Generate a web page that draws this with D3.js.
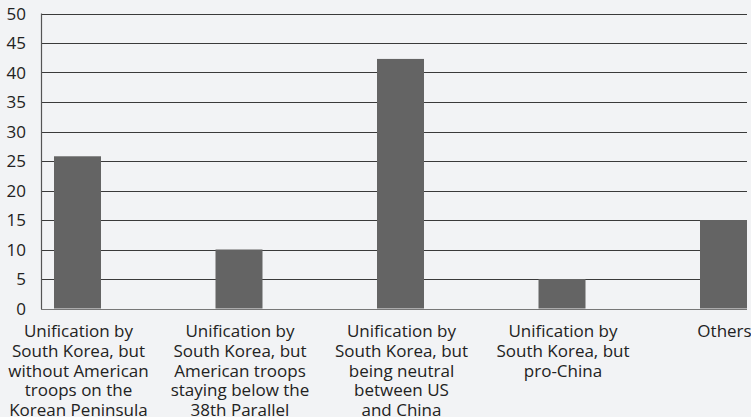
<!DOCTYPE html>
<html><head><meta charset="utf-8">
<script src="https://cdn.jsdelivr.net/npm/d3@7"></script>
<style>body{margin:0;background:#f2f3f5;}svg{display:block;}</style>
</head><body>
<script>
const categories = [
  ["Unification by","South Korea, but","without American","troops on the","Korean Peninsula"],
  ["Unification by","South Korea, but","American troops","staying below the","38th Parallel"],
  ["Unification by","South Korea, but","being neutral","between US","and China"],
  ["Unification by","South Korea, but","pro-China"],
  ["Others"]
];
const values = [25.8, 10, 42.3, 5, 15];
const yTicks = [0,5,10,15,20,25,30,35,40,45,50];

const W = 751, H = 417;
const svg = d3.select("body").append("svg").attr("width", W).attr("height", H);
svg.append("rect").attr("width", W).attr("height", H).attr("fill", "#f2f3f5");

const keys = categories.map((c,i)=>i);
const x = d3.scaleBand().domain(keys).range([54, 747]).paddingInner(0.709).paddingOuter(0);
const y = d3.scaleLinear().domain([0, 50]).range([308.5, 13.5]);
const plotLeft = 41, plotRight = 747;

// gridlines
svg.append("g").selectAll("line").data(yTicks.filter(t=>t>0)).join("line")
  .attr("x1", plotLeft).attr("x2", plotRight)
  .attr("y1", d=>Math.round(y(d))+0.5).attr("y2", d=>Math.round(y(d))+0.5)
  .attr("stroke", "#3a3a3a").attr("stroke-width", 1.2);

// bars
svg.append("g").selectAll("rect").data(values).join("rect")
  .attr("x", (d,i)=>x(i)).attr("width", x.bandwidth())
  .attr("y", d=>y(d)).attr("height", d=>y(0)-y(d))
  .attr("fill", "#646464");

// axes lines
svg.append("line").attr("x1", plotLeft+0.5).attr("x2", plotLeft+0.5)
  .attr("y1", y(50)).attr("y2", y(0)+0.5).attr("stroke", "#555").attr("stroke-width", 1.2);
svg.append("line").attr("x1", plotLeft).attr("x2", plotRight)
  .attr("y1", Math.round(y(0))+0.5).attr("y2", Math.round(y(0))+0.5).attr("stroke", "#777").attr("stroke-width", 1.2);

// y tick labels via axis
const yAxis = d3.axisLeft(y).tickValues(yTicks).tickSize(0).tickPadding(0);
const gy = svg.append("g").attr("transform", "translate(26,0)").call(yAxis);
gy.select(".domain").remove();
gy.selectAll("text").attr("font-family", "'Open Sans', sans-serif").attr("font-size", 17)
  .attr("fill", "#222").attr("text-anchor", "end").attr("dy", "0.35em");

// category labels
const lab = svg.append("g").selectAll("text").data(categories).join("text")
  .attr("font-family", "'Open Sans', sans-serif").attr("font-size", 17).attr("fill", "#222")
  .attr("text-anchor", "middle")
  .attr("x", (d,i)=>x(i)+x.bandwidth()/2 + 1);
lab.selectAll("tspan").data((d,i)=>d.map(s=>({s, i}))).join("tspan")
  .attr("x", d=>x(d.i)+x.bandwidth()/2 + 1)
  .attr("y", (d,j)=>337 + j*19.8)
  .text(d=>d.s);
</script>
</body></html>
